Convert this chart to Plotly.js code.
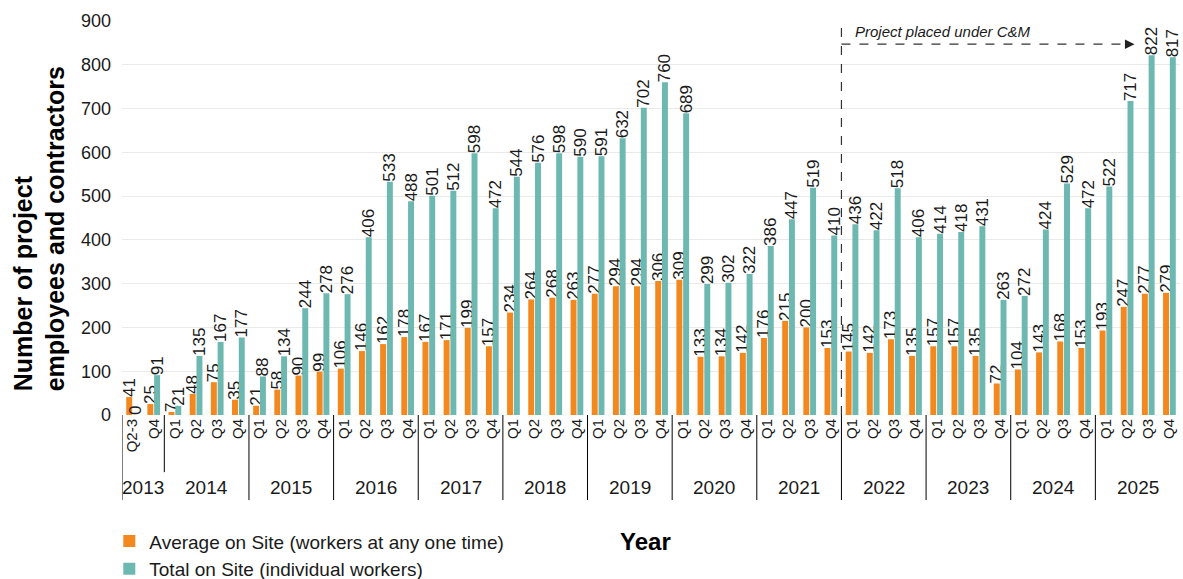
<!DOCTYPE html>
<html>
<head>
<meta charset="utf-8">
<script src="https://cdn.plot.ly/plotly-3.0.1.min.js"></script>
<style>
  html, body { margin: 0; padding: 0; background: #fff; }
  #chart { width: 1183px; height: 579px; }
</style>
</head>
<body>
<div id="chart"></div>
<script>
// Reporting periods (year + quarter)
const periodYear = [
  '2013','2013',
  '2014','2014','2014','2014',
  '2015','2015','2015','2015',
  '2016','2016','2016','2016',
  '2017','2017','2017','2017',
  '2018','2018','2018','2018',
  '2019','2019','2019','2019',
  '2020','2020','2020','2020',
  '2021','2021','2021','2021',
  '2022','2022','2022','2022',
  '2023','2023','2023','2023',
  '2024','2024','2024','2024',
  '2025','2025','2025','2025'
];
const periodQuarter = [
  'Q2-3','Q4',
  'Q1','Q2','Q3','Q4',
  'Q1','Q2','Q3','Q4',
  'Q1','Q2','Q3','Q4',
  'Q1','Q2','Q3','Q4',
  'Q1','Q2','Q3','Q4',
  'Q1','Q2','Q3','Q4',
  'Q1','Q2','Q3','Q4',
  'Q1','Q2','Q3','Q4',
  'Q1','Q2','Q3','Q4',
  'Q1','Q2','Q3','Q4',
  'Q1','Q2','Q3','Q4',
  'Q1','Q2','Q3','Q4'
];

// Average on site (workers at any one time)
const averageOnSite = [
  41, 25,
  7, 48, 75, 35,
  21, 58, 90, 99,
  106, 146, 162, 178,
  167, 171, 199, 157,
  234, 264, 268, 263,
  277, 294, 294, 306,
  309, 133, 134, 142,
  176, 215, 200, 153,
  145, 142, 173, 135,
  157, 157, 135, 72,
  104, 143, 168, 153,
  193, 247, 277, 279
];

// Total on site (individual workers)
const totalOnSite = [
  0, 91,
  21, 135, 167, 177,
  88, 134, 244, 278,
  276, 406, 533, 488,
  501, 512, 598, 472,
  544, 576, 598, 590,
  591, 632, 702, 760,
  689, 299, 302, 322,
  386, 447, 519, 410,
  436, 422, 518, 406,
  414, 418, 431, 263,
  272, 424, 529, 472,
  522, 717, 822, 817
];

const yearLabels = ['2013','2014','2015','2016','2017','2018','2019','2020','2021','2022','2023','2024','2025'];
const cmStartYear = '2022';

const categories = periodYear.map((y, i) => y + ' ' + periodQuarter[i]);

const ORANGE = '#F3881F';
const TEAL = '#6EB8B2';
const TEXT = '#1a1a1a';
const FONT = 'Liberation Sans, Arial, sans-serif';

const labelFont = { family: FONT, size: 17, color: TEXT };

const traces = [
  {
    type: 'bar',
    name: 'Average on Site (workers at any one time)',
    x: categories,
    y: averageOnSite,
    marker: { color: ORANGE },
    text: averageOnSite.map(String),
    textposition: 'outside',
    textangle: -90,
    constraintext: 'none',
    cliponaxis: false,
    textfont: labelFont,
    hoverinfo: 'x+y'
  },
  {
    type: 'bar',
    name: 'Total on Site (individual workers)',
    x: categories,
    y: totalOnSite,
    marker: { color: TEAL },
    text: totalOnSite.map(String),
    textposition: 'outside',
    textangle: -90,
    constraintext: 'none',
    cliponaxis: false,
    textfont: labelFont,
    hoverinfo: 'x+y'
  }
];

// Year grouping: first and last index of each year
const yearStart = yearLabels.map(y => periodYear.indexOf(y));
const yearEnd = yearLabels.map(y => periodYear.lastIndexOf(y));

const shapes = [];
const annotations = [];

// Dividers between year groups below the axis
yearStart.forEach((s, k) => {
  const short = k === 1; // 2013 / 2014 share one label row
  shapes.push({
    type: 'line', xref: 'x', yref: 'paper',
    x0: s - 0.5, x1: s - 0.5,
    y0: 0, y1: short ? -0.145 : -0.216,
    line: { color: '#000', width: 1 }
  });
});

// Year labels
yearLabels.forEach((y, k) => {
  annotations.push({
    xref: 'x', yref: 'paper',
    x: (yearStart[k] + yearEnd[k]) / 2,
    y: -0.185,
    text: y, showarrow: false,
    xanchor: 'center', yanchor: 'middle',
    font: { family: FONT, size: 19, color: TEXT }
  });
});

// Care & maintenance marker
const cmIndex = periodYear.indexOf(cmStartYear) - 0.5;
const arrowTip = categories.length - 2.65;
shapes.push({
  type: 'line', xref: 'x', yref: 'y',
  x0: cmIndex, x1: cmIndex, y0: 0, y1: 900,
  line: { color: '#333', width: 1.2, dash: 'dash' }
});
shapes.push({
  type: 'line', xref: 'x', yref: 'y',
  x0: cmIndex, x1: arrowTip - 0.3, y0: 847, y1: 847,
  line: { color: '#333', width: 1.2, dash: 'dash' }
});
annotations.push({
  xref: 'x', yref: 'y', axref: 'x', ayref: 'y',
  x: arrowTip, y: 847, ax: arrowTip - 0.4, ay: 847,
  text: '', showarrow: true,
  arrowhead: 2, arrowsize: 1.6, arrowwidth: 1.2, arrowcolor: '#222'
});
annotations.push({
  xref: 'x', yref: 'y',
  x: cmIndex + 0.55, y: 876,
  text: '<i>Project placed under C&amp;M</i>', showarrow: false,
  xanchor: 'left', yanchor: 'middle',
  font: { family: FONT, size: 15, color: TEXT }
});

// Axis titles
annotations.push({
  xref: 'paper', yref: 'paper',
  x: -0.078, y: 0.055,
  text: '<b>Number of project<br>employees and contractors</b>',
  textangle: -90, showarrow: false, align: 'left',
  xanchor: 'center', yanchor: 'bottom',
  font: { family: FONT, size: 25, color: '#000' }
});
annotations.push({
  xref: 'paper', yref: 'paper',
  x: 0.495, y: -0.32,
  text: '<b>Year</b>', showarrow: false,
  xanchor: 'center', yanchor: 'middle',
  font: { family: FONT, size: 24, color: '#000' }
});

const layout = {
  width: 1183,
  height: 579,
  margin: { l: 122, r: 3, t: 21, b: 164 },
  paper_bgcolor: '#fff',
  plot_bgcolor: '#fff',
  barmode: 'group',
  bargap: 0.36,
  bargroupgap: 0.12,
  font: { family: FONT, color: TEXT },
  showlegend: true,
  legend: {
    orientation: 'v',
    xref: 'paper', yref: 'container',
    x: -0.012, y: 0.098,
    xanchor: 'left', yanchor: 'top',
    font: { family: FONT, size: 19, color: TEXT },
    tracegroupgap: 0,
    itemwidth: 30,
    bgcolor: 'rgba(0,0,0,0)'
  },
  xaxis: {
    type: 'category',
    tickvals: categories,
    ticktext: periodQuarter,
    tickangle: -90,
    tickfont: { family: FONT, size: 15, color: TEXT },
    ticks: '',
    showgrid: false,
    zeroline: false,
    showline: false,
    range: [-0.5, categories.length - 0.5],
    automargin: false
  },
  yaxis: {
    range: [0, 900],
    dtick: 100,
    tick0: 0,
    showgrid: true,
    gridcolor: '#e9e9e9',
    gridwidth: 1,
    zeroline: false,
    showline: false,
    ticks: '',
    ticklabelstandoff: 10,
    tickfont: { family: FONT, size: 18, color: TEXT },
    automargin: false
  },
  shapes: shapes,
  annotations: annotations
};

Plotly.newPlot('chart', traces, layout, { displayModeBar: false, staticPlot: true });
</script>
</body>
</html>
